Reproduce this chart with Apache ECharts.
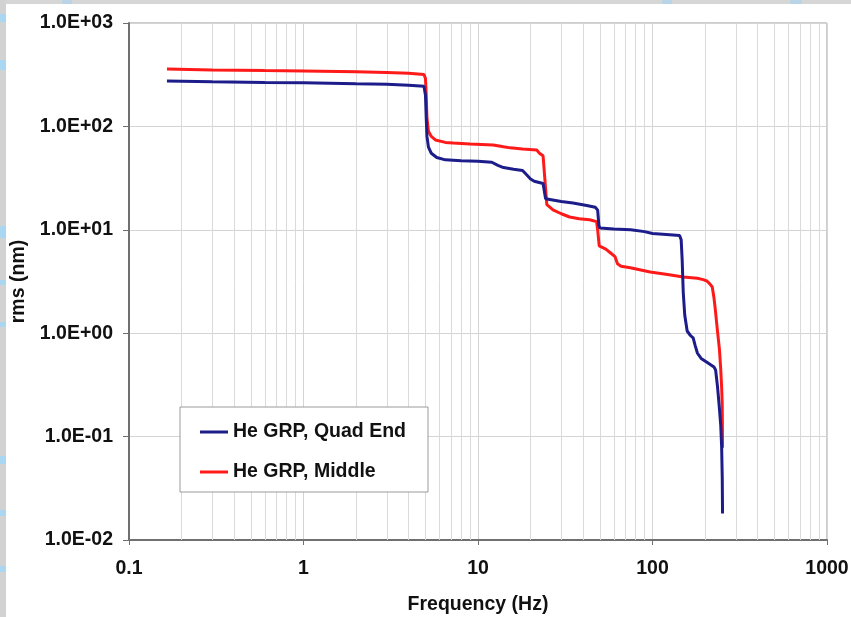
<!DOCTYPE html>
<html>
<head>
<meta charset="utf-8">
<script src="https://cdn.jsdelivr.net/npm/echarts@6/dist/echarts.min.js"></script>
<style>
html,body{margin:0;padding:0;background:#fff;}
#chart{width:851px;height:617px;}
</style>
</head>
<body>
<div id="chart"></div>
<script>
// ---- data ----
const seriesNames = ['He GRP, Quad End', 'He GRP, Middle'];

const quadFreq = [0.165, 0.3, 0.6, 1, 2, 3, 4, 4.9, 5.0, 5.05, 5.1, 5.2, 5.4, 5.8, 6.5, 8, 10, 12, 13, 14, 16, 18, 19, 20, 21, 23.6, 24.0, 24.4, 25, 30, 35, 42, 47, 48.5, 49.3, 50, 60, 75, 90, 100, 120, 143, 146, 148, 150, 153, 158, 165, 171, 176, 181, 190, 206, 225, 230, 236, 241, 246, 249, 251, 252];
const quadRms  = [275, 270, 266, 264, 258, 255, 250, 245, 200, 120, 80, 63, 55, 50, 47.5, 46.5, 46, 45, 42, 40, 38.5, 37.5, 34, 31, 29.5, 28, 27, 20, 19.3, 18.8, 18.2, 17.2, 16.5, 15.5, 11, 10.4, 10.2, 10, 9.6, 9.2, 9.0, 8.8, 8.0, 5.0, 2.5, 1.5, 1.05, 0.95, 0.9, 0.75, 0.64, 0.57, 0.52, 0.47, 0.44, 0.3, 0.2, 0.13, 0.08, 0.04, 0.018];

const midFreq = [0.165, 0.3, 0.6, 1, 2, 3, 4, 4.9, 5.0, 5.05, 5.1, 5.2, 5.4, 5.7, 6.5, 7.2, 9, 12.2, 14, 15.3, 18, 21.7, 22.5, 23.6, 24.0, 24.4, 24.8, 26.9, 30, 33.5, 38, 43.6, 47.8, 48.5, 49.5, 54, 57.3, 61, 63, 66, 74.6, 97, 122, 150, 181, 195, 205, 213, 220, 225, 229, 235, 242, 246, 249, 251, 252];
const midRms  = [360, 352, 347, 344, 338, 333, 326, 318, 290, 200, 120, 90, 80, 74, 70, 69, 67.5, 66, 63.5, 62, 60.5, 59, 55, 52, 50, 25, 17.5, 15.6, 14.3, 13.3, 12.8, 12.5, 12.0, 10, 7.0, 6.5, 6.0, 5.5, 4.7, 4.45, 4.3, 3.9, 3.7, 3.5, 3.4, 3.3, 3.2, 3.0, 2.8, 2.2, 1.7, 1.1, 0.69, 0.45, 0.3, 0.2, 0.078];

const xTickLabels = ['0.1', '1', '10', '100', '1000'];
const yTickLabels = ['1.0E-02', '1.0E-01', '1.0E+00', '1.0E+01', '1.0E+02', '1.0E+03'];
const xMinorGrid = [0.2,0.3,0.4,0.5,0.6,0.7,0.8,0.9, 2,3,4,5,6,7,8,9, 20,30,40,50,60,70,80,90, 200,300,400,500,600,700,800,900];

// ---- chart ----
const font = '"Liberation Sans", Arial, Helvetica, sans-serif';
const fs = 19.5;
const zip = (a, b) => a.map((v, i) => [v, b[i]]);

const chart = echarts.init(document.getElementById('chart'), null, {renderer: 'canvas'});
chart.setOption({
  animation: false,
  backgroundColor: '#ffffff',
  textStyle: {fontFamily: font},
  graphic: [
    {type: 'rect', left: 0, top: 0, shape: {width: 851, height: 4}, style: {fill: '#d6d6d6'}, z: 0},
    {type: 'rect', left: 0, top: 0, shape: {width: 6, height: 617}, style: {fill: '#d2d2d2'}, z: 0},
    {type: 'rect', left: 0, top: 14, shape: {width: 6, height: 8}, style: {fill: '#a9d6f0'}, z: 0},
    {type: 'rect', left: 0, top: 60, shape: {width: 6, height: 10}, style: {fill: '#a9d6f0'}, z: 0},
    {type: 'rect', left: 0, top: 226, shape: {width: 6, height: 12}, style: {fill: '#a9d6f0'}, z: 0},
    {type: 'rect', left: 0, top: 280, shape: {width: 6, height: 5}, style: {fill: '#a9d6f0'}, z: 0},
    {type: 'rect', left: 0, top: 322, shape: {width: 6, height: 5}, style: {fill: '#a9d6f0'}, z: 0},
    {type: 'rect', left: 0, top: 456, shape: {width: 6, height: 8}, style: {fill: '#a9d6f0'}, z: 0},
    {type: 'rect', left: 0, top: 510, shape: {width: 6, height: 6}, style: {fill: '#a9d6f0'}, z: 0},
    {type: 'rect', left: 0, top: 566, shape: {width: 6, height: 6}, style: {fill: '#a9d6f0'}, z: 0},
    {type: 'rect', left: 62, top: 0, shape: {width: 10, height: 4}, style: {fill: '#b8d4e6'}, z: 0},
    {type: 'rect', left: 662, top: 0, shape: {width: 10, height: 4}, style: {fill: '#b8d4e6'}, z: 0},
    {type: 'rect', left: 790, top: 0, shape: {width: 12, height: 4}, style: {fill: '#b8d4e6'}, z: 0}
  ],
  grid: {
    left: 129, right: 24, top: 23, bottom: 77,
    containLabel: false,
    outerBoundsMode: 'none',
    show: true, borderColor: '#9a9a9a', borderWidth: 1, backgroundColor: 'transparent'
  },
  legend: {
    orient: 'vertical',
    left: 180, top: 407,
    z: 20,
    padding: [14, 22, 9, 20],
    itemGap: 18,
    icon: 'rect',
    itemWidth: 28, itemHeight: 3,
    backgroundColor: '#ffffff',
    borderColor: '#9a9a9a', borderWidth: 1,
    textStyle: {fontFamily: font, fontSize: fs, fontWeight: 'bold', color: '#111', lineHeight: 22},
    data: seriesNames
  },
  xAxis: {
    type: 'log', logBase: 10, min: 0.1, max: 1000,
    name: 'Frequency (Hz)', nameLocation: 'middle', nameGap: 55,
    nameTextStyle: {fontFamily: font, fontSize: fs, fontWeight: 'bold', color: '#111'},
    axisLine: {show: true, onZero: false, lineStyle: {color: '#707070', width: 2}},
    axisTick: {show: true, length: 5, lineStyle: {color: '#707070'}},
    axisLabel: {
      fontFamily: font, fontSize: fs, fontWeight: 'bold', color: '#111', margin: 19,
      formatter: v => xTickLabels[Math.round(Math.log10(v)) + 1]
    },
    splitLine: {show: true, lineStyle: {color: '#d4d4d4', width: 1}},
    minorTick: {show: false},
    minorSplitLine: {show: false}
  },
  yAxis: {
    type: 'log', logBase: 10, min: 0.01, max: 1000,
    name: 'rms (nm)', nameLocation: 'middle', nameGap: 99, nameRotate: 90,
    nameTextStyle: {fontFamily: font, fontSize: fs, fontWeight: 'bold', color: '#111'},
    axisLine: {show: true, onZero: false, lineStyle: {color: '#707070', width: 2}},
    axisTick: {show: true, length: 6, lineStyle: {color: '#707070'}},
    axisLabel: {
      fontFamily: font, fontSize: fs, fontWeight: 'bold', color: '#111', margin: 16,
      formatter: v => yTickLabels[Math.round(Math.log10(v)) + 2]
    },
    splitLine: {show: true, lineStyle: {color: '#d4d4d4', width: 1}}
  },
  series: [
    {
      name: '__minorgrid', type: 'line', data: [], silent: true, z: 1,
      markLine: {
        silent: true, symbol: 'none', animation: false, z: 1,
        label: {show: false},
        lineStyle: {color: '#dadada', width: 1, type: 'solid'},
        emphasis: {disabled: true},
        data: xMinorGrid.map(v => ({xAxis: v}))
      }
    },
    {
      name: seriesNames[0], type: 'line', symbol: 'none', smooth: false, z: 3,
      lineStyle: {color: '#1c1c8a', width: 3}, itemStyle: {color: '#1c1c8a'},
      data: zip(quadFreq, quadRms)
    },
    {
      name: seriesNames[1], type: 'line', symbol: 'none', smooth: false, z: 2,
      lineStyle: {color: '#ff1a1a', width: 3}, itemStyle: {color: '#ff1a1a'},
      data: zip(midFreq, midRms)
    }
  ]
});
</script>
</body>
</html>
